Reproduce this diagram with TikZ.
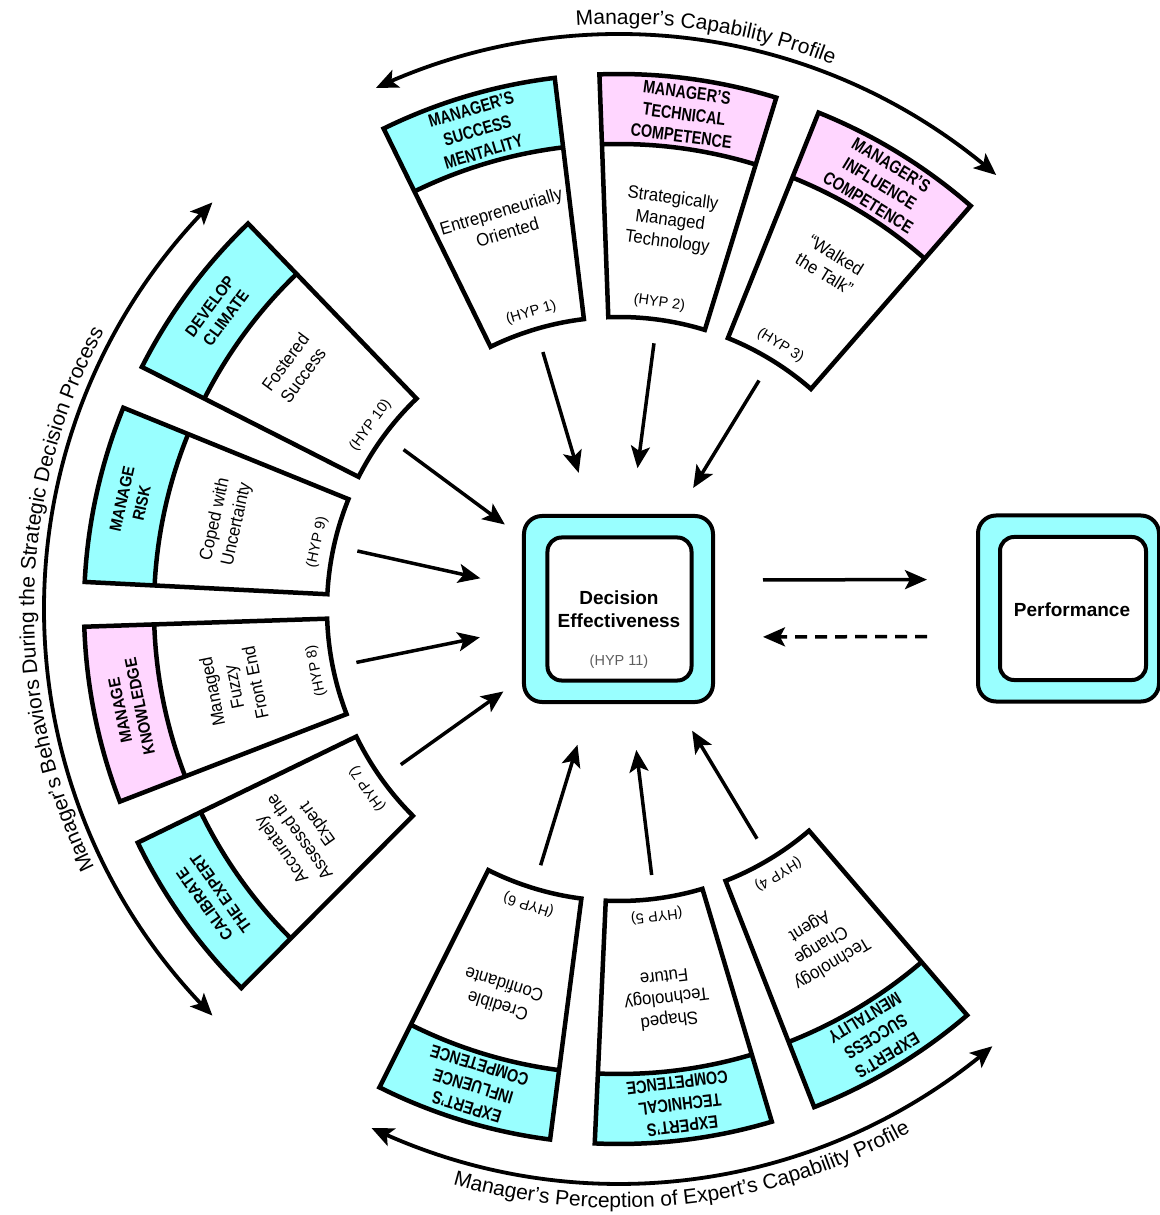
\documentclass[tikz,border=0pt]{standalone}
\usepackage{fontspec}
\setmainfont{Liberation Sans}
\newfontfamily\hdrfont{Liberation Sans}[FakeStretch=0.8]
\newfontfamily\hdrfontB{Liberation Sans}[FakeStretch=0.9]
\newfontfamily\bodyfont{Liberation Sans}[FakeStretch=0.93]
\usetikzlibrary{arrows.meta,bending,decorations.text}

\definecolor{hdrcyan}{RGB}{153,255,255}
\definecolor{hdrpink}{RGB}{255,214,255}
\definecolor{hypgray}{RGB}{95,95,95}

\newcommand\arclabelfont{\fontsize{21}{25}\selectfont}

% One annular box: #1 name, #2 mid angle, #3 header colour,
% #4 header text, #5 body text, #6 hypothesis number, #7 header style
\newcommand\radbox[7]{%
  \pgfmathsetmacro\bxA{#2-9.6}%
  \pgfmathsetmacro\bxB{#2+9.6}%
  \pgfmathsetmacro\bxR{#2-90}%
  \fill[#3] (\bxA:465) arc[start angle=\bxA, end angle=\bxB, radius=465]
     -- (\bxB:535) arc[start angle=\bxB, end angle=\bxA, radius=535] -- cycle;
  \fill[white] (\bxA:292) arc[start angle=\bxA, end angle=\bxB, radius=292]
     -- (\bxB:465) arc[start angle=\bxB, end angle=\bxA, radius=465] -- cycle;
  \draw[boxline] (\bxA:465) arc[start angle=\bxA, end angle=\bxB, radius=465];
  \draw[boxline] (\bxA:292) arc[start angle=\bxA, end angle=\bxB, radius=292]
     -- (\bxB:535) arc[start angle=\bxB, end angle=\bxA, radius=535] -- cycle;
  \node[#7, rotate=\bxR] (#1-head) at (#2:499) {#4};
  \node[bodytext, rotate=\bxR, anchor=north] (#1-body) at (#2:422) {#5};
  \node[hyptext, rotate=\bxR] (#1-hyp) at (#2:309) {(HYP #6)};
  \coordinate (#1-out) at (#2:268);
  \coordinate (#1-tip) at (#2:142);
  \draw[inarrow] (#1-out) -- (#1-tip);
}

\begin{document}
\begin{tikzpicture}[x=1pt, y=1pt,
  boxline/.style={line width=4.5pt, line join=miter},
  hdrA/.style={font=\hdrfont\bfseries\fontsize{18}{22}\selectfont, align=center, inner sep=0pt},
  hdrB/.style={font=\hdrfontB\bfseries\fontsize{16.5}{20}\selectfont, align=center, inner sep=0pt},
  bodytext/.style={font=\bodyfont\fontsize{18}{22}\selectfont, align=center, inner sep=0pt},
  hyptext/.style={font=\fontsize{14.5}{17}\selectfont, inner sep=0pt},
  mainlabel/.style={font=\bfseries\fontsize{19}{23}\selectfont, align=center, inner sep=0pt},
  inarrow/.style={line width=3.5pt, -{Stealth[length=22pt,width=19pt,inset=5pt]}},
  arcarrow/.style={line width=3.8pt, {Stealth[length=22pt,width=19pt,inset=5pt]}-{Stealth[length=22pt,width=19pt,inset=5pt]}},
  outerbox/.style={draw, line width=4pt, fill=hdrcyan, rounded corners=18pt,
    minimum width=189pt, minimum height=186pt, inner sep=0pt, outer sep=0pt},
  innerbox/.style={draw, line width=4pt, fill=white, rounded corners=14pt,
    minimum width=144pt, minimum height=143pt, inner sep=0pt, outer sep=0pt},
  arclabel/.style={decorate, decoration={text along path, text align=center, text={#1}}}
]
\fill[white] (-619,-606) rectangle (540,609);
\useasboundingbox (-619,-606) rectangle (540,609);

% manager's capability profile
\radbox{msm}{106.5}{hdrcyan}{MANAGER’S\\SUCCESS\\MENTALITY}{Entrepreneurially\\Oriented}{1}{hdrA}
\radbox{mtc}{82.5}{hdrpink}{MANAGER’S\\TECHNICAL\\COMPETENCE}{Strategically\\Managed\\Technology}{2}{hdrA}
\radbox{mic}{58.5}{hdrpink}{MANAGER’S\\INFLUENCE\\COMPETENCE}{“Walked\\the Talk”}{3}{hdrA}

% expert's capability profile
\radbox{esm}{301}{hdrcyan}{EXPERT’S\\SUCCESS\\MENTALITY}{Technology\\Change\\Agent}{4}{hdrA}
\radbox{etc}{277}{hdrcyan}{EXPERT’S\\TECHNICAL\\COMPETENCE}{Shaped\\Technology\\Future}{5}{hdrA}
\radbox{eic}{253}{hdrcyan}{EXPERT’S\\INFLUENCE\\COMPETENCE}{Credible\\Confidante}{6}{hdrA}

% manager's behaviours
\radbox{cal}{215.5}{hdrcyan}{CALIBRATE\\THE EXPERT}{Accurately\\Assessed the\\Expert}{7}{hdrB}
\radbox{kno}{191.5}{hdrpink}{MANAGE\\KNOWLEDGE}{Managed\\Fuzzy\\Front End}{8}{hdrB}
\radbox{rsk}{167.5}{hdrcyan}{MANAGE\\RISK}{Coped with\\Uncertainty}{9}{hdrB}
\radbox{clm}{143.5}{hdrcyan}{DEVELOP\\CLIMATE}{Fostered\\Success}{10}{hdrB}

% central outcome
\node[outerbox] (dec) at (-0.5,0) {};
\node[innerbox] (dec-in) at (0.5,0) {};
\node[mainlabel] (dec-label) at (0,-0.5) {Decision\\Effectiveness};
\node[hyptext, text=hypgray] (dec-hyp) at (0,-53) {(HYP 11)};

% performance
\node[outerbox, minimum width=181pt] (perf) at (449.5,0.5) {};
\node[innerbox, minimum width=146pt] (perf-in) at (454,0.5) {};
\node[mainlabel] (perf-label) at (453,-1) {Performance};

\draw[inarrow, shorten <=50pt, shorten >=51pt] ([yshift=29pt]dec.east) -- ([yshift=29pt]perf.west);
\draw[inarrow, dash pattern=on 12pt off 8pt, shorten <=51pt, shorten >=50pt] ([yshift=-28pt]perf.west) -- ([yshift=-28pt]dec.east);

% surrounding double arrows
\coordinate (capT) at (115:575);
\coordinate (capL) at (135:575);
\coordinate (capB) at (244.5:575);
\draw[arcarrow] (capT) arc[start angle=115, end angle=49, radius=575];
\draw[arcarrow] (capL) arc[start angle=135, end angle=225, radius=575];
\draw[arcarrow] (capB) arc[start angle=244.5, end angle=310.5, radius=575];

% arc captions
\path[arclabel={|\arclabelfont|Manager’s Capability Profile}]
  (111.4:585) arc[start angle=111.4, end angle=51.4, radius=585];
\path[arclabel={|\arclabelfont|Manager’s Behaviors During the Strategic Decision Process}]
  (214:585) arc[start angle=214, end angle=144, radius=585];
\path[arclabel={|\arclabelfont|Manager’s Perception of Expert’s Capability Profile}]
  (241.5:599) arc[start angle=241.5, end angle=311.5, radius=599];
\end{tikzpicture}
\end{document}
